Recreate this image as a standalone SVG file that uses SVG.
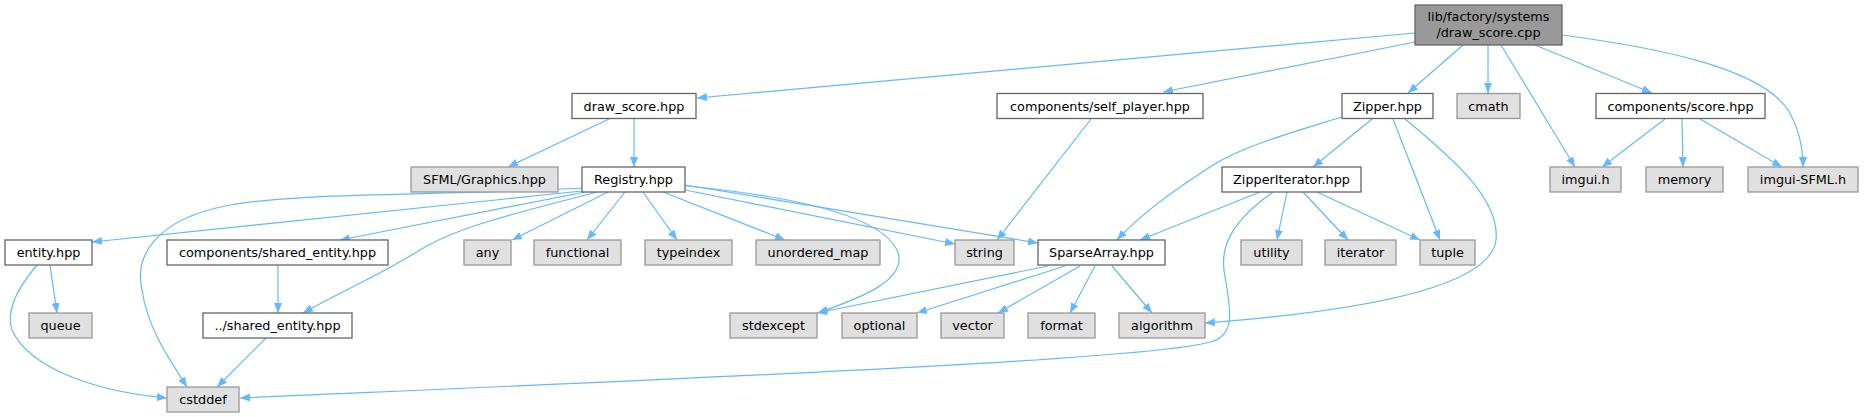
<svg xmlns="http://www.w3.org/2000/svg" width="1864" height="417" viewBox="0 0 1864 417">
<style>
.n rect{fill:#ffffff;stroke:#666666;stroke-width:1.3}
.g rect{fill:#e0e0e0;stroke:#999999;stroke-width:1.3}
.r rect{fill:#999999;stroke:#666666;stroke-width:1.3}
text{font-family:"DejaVu Sans","Liberation Sans",sans-serif;font-size:12.8px;fill:#000000;text-anchor:middle}
#edges path{fill:none;stroke:#63b8ff;stroke-width:1.2;marker-end:url(#ah)}
</style>
<defs>
<marker id="ah" viewBox="0 0 10 8" refX="10" refY="4" markerWidth="10" markerHeight="8" markerUnits="userSpaceOnUse" orient="auto">
<polygon points="0,0 10,4 0,8" fill="#63b8ff"/>
</marker>
</defs>
<rect width="1864" height="417" fill="#ffffff"/>
<g id="edges">
<path d="M1415,33 L697,98"/>
<path d="M1415,42 L1163,92"/>
<path d="M1463,45 L1408,93"/>
<path d="M1488,45 L1488,93"/>
<path d="M1501,45 L1575,167"/>
<path d="M1535,45 L1652,93"/>
<path d="M1562,35 C1660,48 1760,68 1788,110 C1800,130 1803,150 1803,167"/>
<path d="M609,119 L508,167"/>
<path d="M634,119 L634,167"/>
<path d="M1091,119 L997,240"/>
<path d="M1372,119 L1313,167"/>
<path d="M1342,117 C1290,133 1240,147 1210,167 C1170,193 1140,215 1117,240"/>
<path d="M1393,119 L1440,240"/>
<path d="M1405,119 C1455,160 1500,200 1496,240 C1490,290 1350,312 1205,323"/>
<path d="M1665,119 L1602,167"/>
<path d="M1682,119 L1683,167"/>
<path d="M1700,119 L1782,167"/>
<path d="M582,191 L92,242"/>
<path d="M585,192 L340,240"/>
<path d="M597,192 C530,210 460,225 420,250 C380,275 340,292 303,313"/>
<path d="M582,188 C450,196 300,192 230,205 C150,220 135,260 142,290 C148,330 170,360 187,387"/>
<path d="M608,192 L512,240"/>
<path d="M625,192 L587,240"/>
<path d="M643,192 L677,240"/>
<path d="M663,192 L785,240"/>
<path d="M685,190 L955,244"/>
<path d="M685,185 L1038,243"/>
<path d="M686,186 C790,196 880,215 897,250 C910,280 860,298 818,313"/>
<path d="M1260,192 L1140,240"/>
<path d="M1273,192 C1240,215 1220,240 1224,270 C1228,300 1240,335 1210,342 C1150,360 700,378 240,398"/>
<path d="M1287,192 L1277,240"/>
<path d="M1303,192 L1348,240"/>
<path d="M1317,192 L1420,240"/>
<path d="M1048,266 L817,313"/>
<path d="M1065,266 L917,313"/>
<path d="M1080,266 L998,313"/>
<path d="M1095,266 L1070,313"/>
<path d="M1112,266 L1152,313"/>
<path d="M50,265 L57,313"/>
<path d="M37,265 C20,285 5,310 12,330 C30,370 100,392 167,398"/>
<path d="M278,265 L278,313"/>
<path d="M266,338 L217,387"/>
</g>
<g id="root" class="r"><rect x="1415" y="5" width="147" height="40"/><text x="1488.5" y="21">lib/factory/systems</text><text x="1488.5" y="36.5">/draw_score.cpp</text></g>
<g id="draw_score_hpp" class="n"><rect x="572" y="93.5" width="124" height="25"/><text x="634" y="110.5">draw_score.hpp</text></g>
<g id="self_player" class="n"><rect x="997" y="93.5" width="206" height="25"/><text x="1100" y="110.5">components/self_player.hpp</text></g>
<g id="zipper" class="n"><rect x="1342" y="93.5" width="91" height="25"/><text x="1387.5" y="110.5">Zipper.hpp</text></g>
<g id="cmath" class="g"><rect x="1457" y="93.5" width="63" height="25"/><text x="1488.5" y="110.5">cmath</text></g>
<g id="score" class="n"><rect x="1596" y="93.5" width="169" height="25"/><text x="1680.5" y="110.5">components/score.hpp</text></g>
<g id="sfml_graphics" class="g"><rect x="411" y="167" width="147" height="25"/><text x="484.5" y="184">SFML/Graphics.hpp</text></g>
<g id="registry" class="n"><rect x="582" y="167" width="103" height="25"/><text x="633.5" y="184">Registry.hpp</text></g>
<g id="zipper_iterator" class="n"><rect x="1222" y="167" width="139" height="25"/><text x="1291.5" y="184">ZipperIterator.hpp</text></g>
<g id="imgui" class="g"><rect x="1550" y="167" width="71" height="25"/><text x="1585.5" y="184">imgui.h</text></g>
<g id="memory" class="g"><rect x="1646" y="167" width="77" height="25"/><text x="1684.5" y="184">memory</text></g>
<g id="imgui_sfml" class="g"><rect x="1748" y="167" width="110" height="25"/><text x="1803" y="184">imgui-SFML.h</text></g>
<g id="entity" class="n"><rect x="5" y="240" width="87" height="25"/><text x="48.5" y="257">entity.hpp</text></g>
<g id="components_shared_entity" class="n"><rect x="167" y="240" width="221" height="25"/><text x="277.5" y="257">components/shared_entity.hpp</text></g>
<g id="any" class="g"><rect x="464" y="240" width="47" height="25"/><text x="487.5" y="257">any</text></g>
<g id="functional" class="g"><rect x="534" y="240" width="87" height="25"/><text x="577.5" y="257">functional</text></g>
<g id="typeindex" class="g"><rect x="645" y="240" width="87" height="25"/><text x="688.5" y="257">typeindex</text></g>
<g id="unordered_map" class="g"><rect x="756" y="240" width="124" height="25"/><text x="818" y="257">unordered_map</text></g>
<g id="string" class="g"><rect x="955" y="240" width="59" height="25"/><text x="984.5" y="257">string</text></g>
<g id="sparse_array" class="n"><rect x="1038" y="240" width="127" height="25"/><text x="1101.5" y="257">SparseArray.hpp</text></g>
<g id="utility" class="g"><rect x="1241" y="240" width="61" height="25"/><text x="1271.5" y="257">utility</text></g>
<g id="iterator" class="g"><rect x="1325" y="240" width="71" height="25"/><text x="1360.5" y="257">iterator</text></g>
<g id="tuple" class="g"><rect x="1420" y="240" width="55" height="25"/><text x="1447.5" y="257">tuple</text></g>
<g id="queue" class="g"><rect x="29" y="313" width="63" height="25"/><text x="60.5" y="330">queue</text></g>
<g id="shared_entity" class="n"><rect x="203" y="313" width="149" height="25"/><text x="277.5" y="330">../shared_entity.hpp</text></g>
<g id="stdexcept" class="g"><rect x="730" y="313" width="87" height="25"/><text x="773.5" y="330">stdexcept</text></g>
<g id="optional" class="g"><rect x="842" y="313" width="75" height="25"/><text x="879.5" y="330">optional</text></g>
<g id="vector" class="g"><rect x="941" y="313" width="63" height="25"/><text x="972.5" y="330">vector</text></g>
<g id="format" class="g"><rect x="1028" y="313" width="67" height="25"/><text x="1061.5" y="330">format</text></g>
<g id="algorithm" class="g"><rect x="1119" y="313" width="86" height="25"/><text x="1162" y="330">algorithm</text></g>
<g id="cstddef" class="g"><rect x="167" y="387" width="72" height="25"/><text x="203" y="404">cstddef</text></g>
</svg>
